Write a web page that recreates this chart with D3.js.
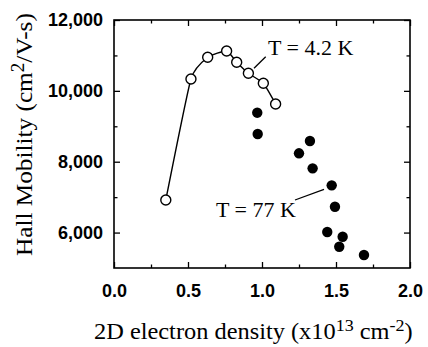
<!DOCTYPE html>
<html>
<head>
<meta charset="utf-8">
<script src="https://cdn.jsdelivr.net/npm/d3@7"></script>
<style>
  html, body { margin: 0; padding: 0; background: #fff; }
  svg { display: block; }
</style>
</head>
<body>
<script>
// Data (x in 10^13 cm^-2, y in cm^2/V-s)
const densityLow = [0.35, 0.52, 0.633, 0.761, 0.829, 0.908, 1.009, 1.092];
const mobilityLow = [6920, 10335, 10947, 11125, 10806, 10495, 10213, 9629];
const densityHigh = [0.968, 0.971, 1.25, 1.324, 1.342, 1.441, 1.471, 1.493, 1.522, 1.545, 1.689];
const mobilityHigh = [9384, 8782, 8237, 8584, 7813, 6015, 7333, 6730, 5600, 5883, 5366];
const xTicks = [0.0, 0.5, 1.0, 1.5, 2.0];
const yTicks = [6000, 8000, 10000, 12000];
const xMinor = [0.25, 0.75, 1.25, 1.75];
const yMinor = [7000, 9000, 11000];
const labelLow = "T = 4.2 K";
const labelHigh = "T = 77 K";

const W = 428, H = 347;
const m = {left: 114, right: 410, top: 20, bottom: 268};

const svg = d3.select("body").append("svg").attr("width", W).attr("height", H);

const x = d3.scaleLinear().domain([0, 2]).range([m.left, m.right]);
const y = d3.scaleLinear().domain([5000, 12000]).range([m.bottom, m.top]);

const sans = "'Liberation Sans', Arial, sans-serif";
const serif = "'Liberation Serif', 'Times New Roman', serif";

function styleAxis(g) {
  g.select(".domain").remove();
  g.selectAll(".tick line").attr("stroke", "#000").attr("stroke-width", 1.3);
}
// bottom
svg.append("g").attr("transform", `translate(0,${m.bottom})`)
  .call(d3.axisBottom(x).tickValues(xTicks).tickSize(-6).tickPadding(16).tickFormat(d3.format(".1f")))
  .call(styleAxis)
  .call(g => g.selectAll("text").attr("font-family", sans).attr("font-weight", "bold").attr("font-size", 18).attr("fill", "#000"));
svg.append("g").attr("transform", `translate(0,${m.bottom})`)
  .call(d3.axisBottom(x).tickValues(xMinor).tickSize(-3.5).tickFormat(""))
  .call(styleAxis);
// top
svg.append("g").attr("transform", `translate(0,${m.top})`)
  .call(d3.axisTop(x).tickValues(xTicks).tickSize(-6).tickFormat(""))
  .call(styleAxis);
svg.append("g").attr("transform", `translate(0,${m.top})`)
  .call(d3.axisTop(x).tickValues(xMinor).tickSize(-3.5).tickFormat(""))
  .call(styleAxis);
// left
svg.append("g").attr("transform", `translate(${m.left},0)`)
  .call(d3.axisLeft(y).tickValues(yTicks).tickSize(-6).tickPadding(11).tickFormat(d3.format(",")))
  .call(styleAxis)
  .call(g => g.selectAll("text").attr("font-family", sans).attr("font-weight", "bold").attr("font-size", 18).attr("fill", "#000"));
svg.append("g").attr("transform", `translate(${m.left},0)`)
  .call(d3.axisLeft(y).tickValues(yMinor).tickSize(-3.5).tickFormat(""))
  .call(styleAxis);
// right
svg.append("g").attr("transform", `translate(${m.right},0)`)
  .call(d3.axisRight(y).tickValues(yTicks).tickSize(-6).tickFormat(""))
  .call(styleAxis);
svg.append("g").attr("transform", `translate(${m.right},0)`)
  .call(d3.axisRight(y).tickValues(yMinor).tickSize(-3.5).tickFormat(""))
  .call(styleAxis);

// Frame
svg.append("rect")
  .attr("x", m.left).attr("y", m.top)
  .attr("width", m.right - m.left).attr("height", m.bottom - m.top)
  .attr("fill", "none").attr("stroke", "#000").attr("stroke-width", 1.6);

const lowData = densityLow.map((d, i) => ({x: d, y: mobilityLow[i]}));
const highData = densityHigh.map((d, i) => ({x: d, y: mobilityHigh[i]}));

const line = d3.line().x(d => x(d.x)).y(d => y(d.y)).curve(d3.curveCardinal.tension(0.5));
svg.append("path").datum(lowData)
  .attr("d", line).attr("fill", "none").attr("stroke", "#000").attr("stroke-width", 1.4);

svg.append("g").selectAll("circle").data(lowData).join("circle")
  .attr("cx", d => x(d.x)).attr("cy", d => y(d.y)).attr("r", 5)
  .attr("fill", "#fff").attr("stroke", "#000").attr("stroke-width", 1.4);

svg.append("g").selectAll("circle").data(highData).join("circle")
  .attr("cx", d => x(d.x)).attr("cy", d => y(d.y)).attr("r", 5.2)
  .attr("fill", "#000");

// Annotations
svg.append("line")
  .attr("x1", x(1.025)).attr("y1", y(10964))
  .attr("x2", x(0.946)).attr("y2", y(10636))
  .attr("stroke", "#000").attr("stroke-width", 1.3);
svg.append("text").attr("x", 268).attr("y", 55)
  .attr("font-family", serif).attr("font-size", 22).attr("fill", "#000").text(labelLow);

svg.append("line")
  .attr("x1", x(1.223)).attr("y1", y(6919))
  .attr("x2", x(1.419)).attr("y2", y(7221))
  .attr("stroke", "#000").attr("stroke-width", 1.3);
svg.append("text").attr("x", 216).attr("y", 217)
  .attr("font-family", serif).attr("font-size", 22).attr("fill", "#000").text(labelHigh);

// Axis titles (fitted to the reference text extent)
const xg = svg.append("g");
const xt = xg.append("text").attr("x", 0).attr("y", 0)
  .attr("font-family", serif).attr("font-size", 23).attr("fill", "#000");
xt.append("tspan").text("2D electron density (x10");
xt.append("tspan").attr("dy", -8).attr("font-size", 17).text("13");
xt.append("tspan").attr("dy", 8).text(" cm");
xt.append("tspan").attr("dy", -8).attr("font-size", 17).text("-2");
xt.append("tspan").attr("dy", 8).text(")");
{
  const w = xt.node().getComputedTextLength();
  const s = 319 / w;
  xg.attr("transform", `translate(94,339) scale(${s},1)`);
}

const yg = svg.append("g");
const yt = yg.append("text").attr("x", 0).attr("y", 0)
  .attr("font-family", serif).attr("font-size", 24).attr("fill", "#000");
yt.append("tspan").text("Hall Mobility (cm");
yt.append("tspan").attr("dy", -8).attr("font-size", 18).text("2");
yt.append("tspan").attr("dy", 8).text("/V-s)");
{
  const w = yt.node().getComputedTextLength();
  const s = 243 / w;
  yg.attr("transform", `translate(32,256) rotate(-90) scale(${s},1)`);
}
</script>
</body>
</html>
